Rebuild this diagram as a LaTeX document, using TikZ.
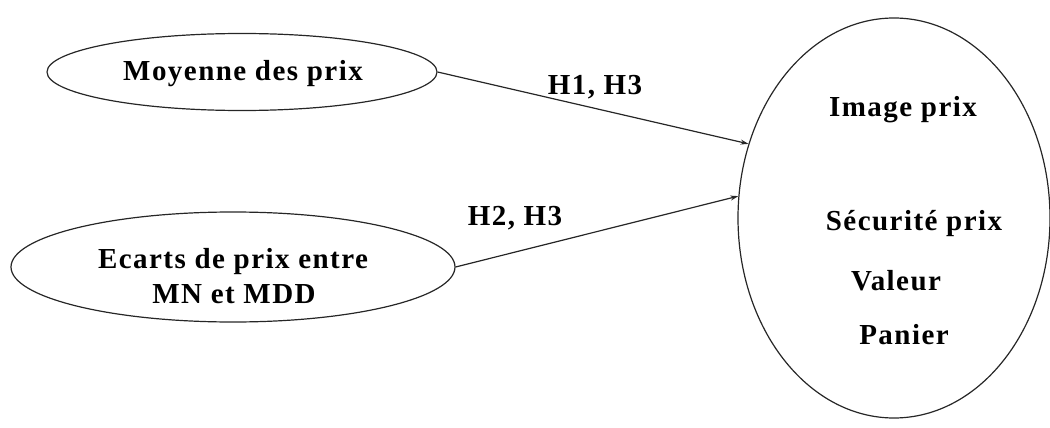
\documentclass[tikz,border=0pt]{standalone}
\usepackage{fontspec}
\setmainfont{Liberation Serif}
\usetikzlibrary{shapes.geometric,arrows.meta}
\begin{document}
\begin{tikzpicture}[x=1pt,y=-1pt,
  oval/.style={ellipse,draw=black!85,line width=1.2pt,inner sep=0pt},
  lbl/.style={font=\fontsize{29}{34}\selectfont\bfseries\addfontfeature{LetterSpace=5},text=black,inner sep=0pt,align=center},
  link/.style={draw=black!85,line width=1.2pt,-{Stealth[length=8pt,width=5pt]}}]
\useasboundingbox (0,0) rectangle (1050,428);
\node[oval,minimum width=390pt,minimum height=77pt] (m) at (242,72) {};
\node[lbl] (mt) at (243,74) {Moyenne des prix};
\node[oval,minimum width=444pt,minimum height=110pt] (e) at (233,267) {};
\node[lbl] (et) at (233,262) {Ecarts de prix entre};
\node[lbl] (et2) at (234,294) {MN et MDD};
\node[oval,minimum width=312pt,minimum height=400pt] (img) at (894,218) {};
\node[lbl] (t1) at (903,110) {Image prix};
\node[lbl] (t2) at (914,224) {Sécurité prix};
\node[lbl] (t3) at (896,281) {Valeur};
\node[lbl] (t4) at (904,335) {Panier};
\draw[link] (m.east) -- (img.153.6);
\draw[link] (e.east) -- (img.172);
\node[lbl] (h1) at (595,87) {H1, H3};
\node[lbl] (h2) at (515,218) {H2, H3};
\end{tikzpicture}
\end{document}
